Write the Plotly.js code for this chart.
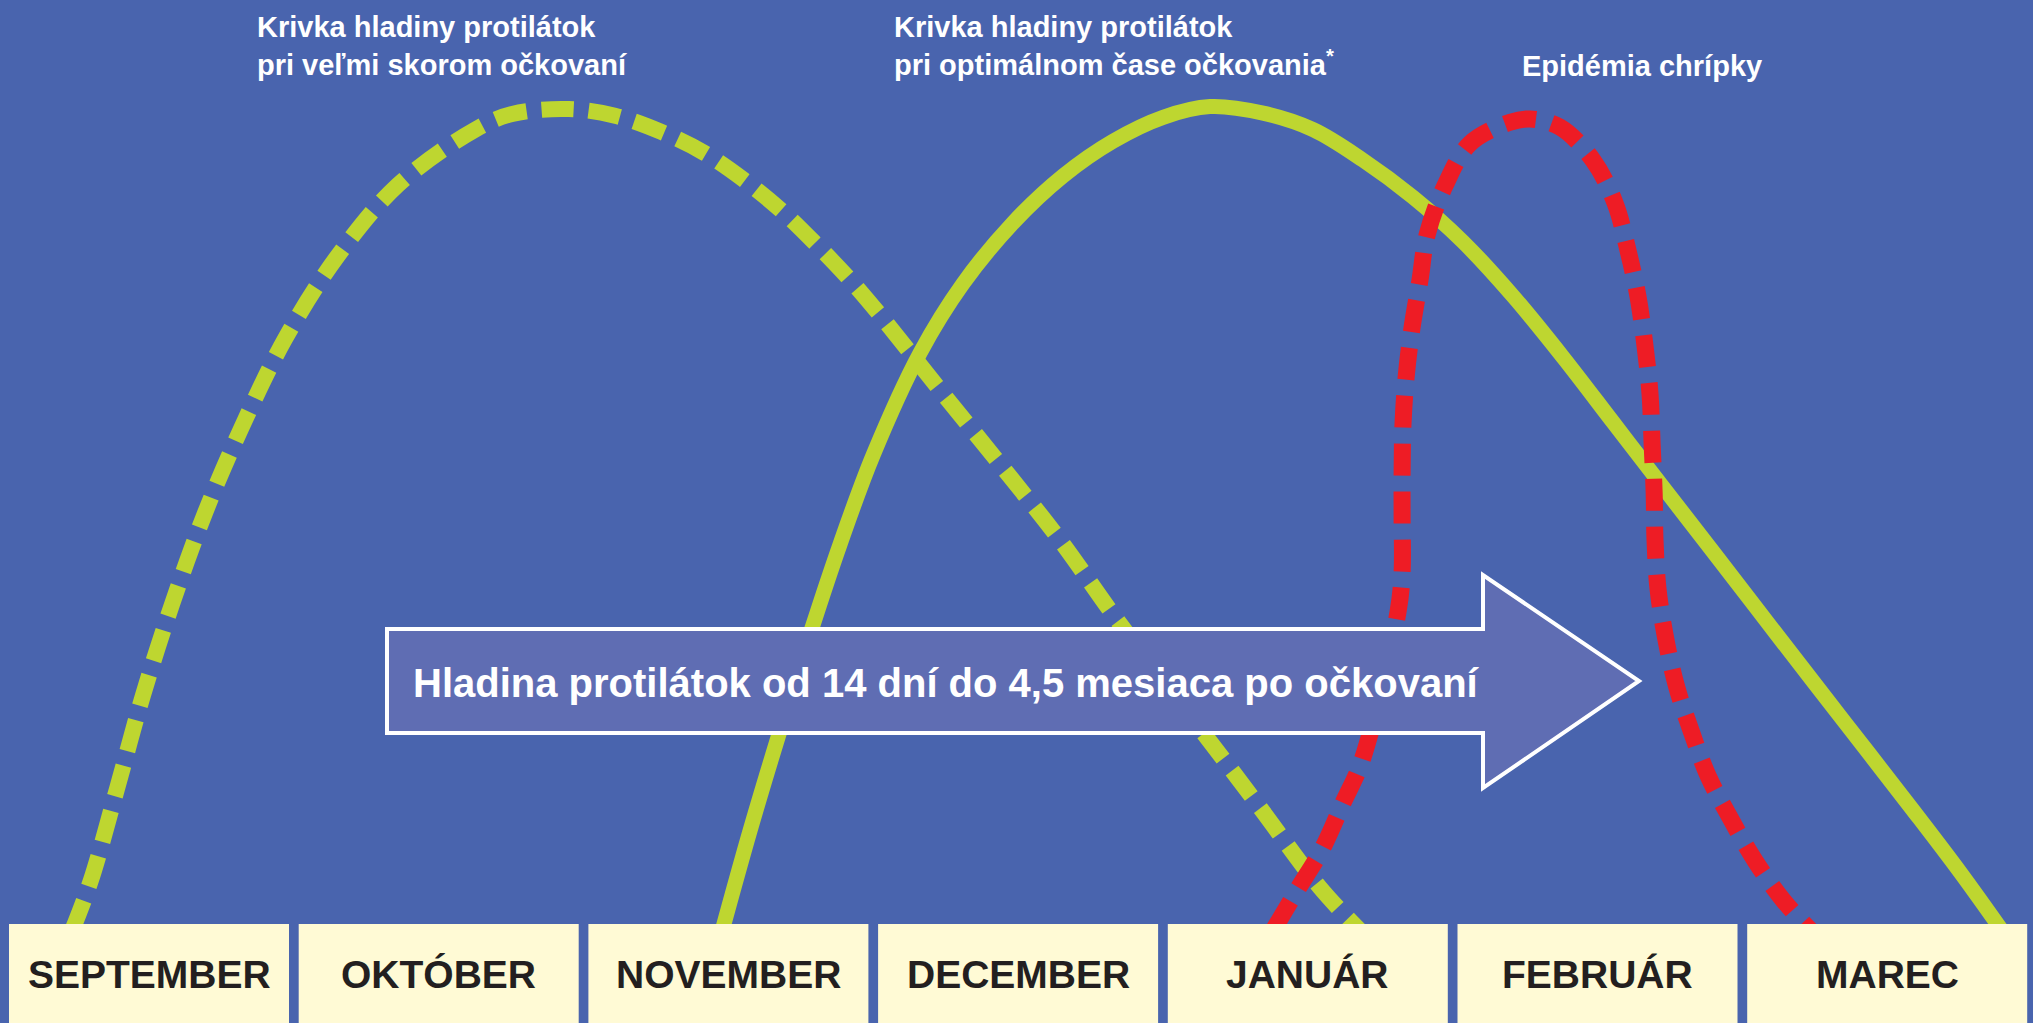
<!DOCTYPE html>
<html>
<head>
<meta charset="utf-8">
<script src="https://cdn.plot.ly/plotly-3.0.1.min.js"></script>
<style>
html,body{margin:0;padding:0;background:#4964AE;overflow:hidden}
#chart{width:2033px;height:1023px}
</style>
</head>
<body>
<div id="chart"></div>
<script>
// ---- data (x in months from start of September, y = relative antibody level / epidemic intensity) ----
const months = ['SEPTEMBER', 'OKTÓBER', 'NOVEMBER', 'DECEMBER', 'JANUÁR', 'FEBRUÁR', 'MAREC'];

// antibody curve, very early vaccination (dashed green)
const earlyX = [0.234, 0.299, 0.389, 0.479, 0.579, 0.693, 0.821, 0.969, 1.145, 1.359, 1.625, 1.753, 1.949, 2.108, 2.270, 2.415, 2.553, 2.685, 2.802, 2.916, 3.023, 3.230, 3.437, 3.644, 3.841, 4.152, 4.335, 4.542, 4.680];
const earlyY = [-0.8, 5.3, 16.4, 27.8, 38.8, 49.9, 60.4, 71.0, 80.8, 89.7, 96.4, 98.3, 98.9, 98.1, 96.1, 93.6, 90.3, 86.5, 82.5, 78.3, 73.9, 64.8, 55.8, 46.6, 36.9, 22.6, 14.1, 4.4, -0.8];

// antibody curve, optimal vaccination time (solid green)
const optimalX = [2.471, 2.574, 2.671, 2.788, 2.885, 2.999, 3.161, 3.309, 3.482, 3.655, 3.827, 4.000, 4.162, 4.345, 4.518, 4.690, 4.863, 5.035, 5.208, 5.380, 5.553, 5.726, 5.898, 6.130, 6.357, 6.589, 6.751, 6.910];
const optimalY = [-1.7, 11.3, 22.7, 35.9, 46.1, 56.9, 69.3, 77.7, 85.1, 90.8, 95.0, 97.9, 99.2, 98.4, 96.4, 92.7, 88.2, 82.8, 76.2, 68.8, 60.9, 53.0, 45.2, 34.6, 24.3, 13.8, 6.3, -1.5];

// influenza epidemic (dashed red)
const fluX = [4.383, 4.466, 4.549, 4.621, 4.687, 4.811, 4.825, 4.825, 4.825, 4.828, 4.839, 4.859, 4.887, 4.911, 4.973, 5.059, 5.198, 5.267, 5.370, 5.484, 5.560, 5.605, 5.639, 5.664, 5.681, 5.688, 5.695, 5.698, 5.708, 5.733, 5.771, 5.822, 5.881, 5.957, 6.043, 6.140, 6.233];
const fluY = [-0.6, 4.3, 9.1, 14.7, 19.9, 37.9, 42.7, 49.3, 54.7, 60.6, 66.4, 72.3, 78.2, 83.6, 89.6, 94.7, 97.3, 97.7, 96.7, 92.7, 87.5, 81.7, 76.2, 70.0, 64.2, 58.3, 52.4, 46.6, 40.8, 35.0, 29.0, 23.5, 18.0, 12.9, 7.7, 2.9, -0.7];

const labelEarly = 'Krivka hladiny protilátok<br>pri veľmi skorom očkovaní';
const labelOptimal = 'Krivka hladiny protilátok<br>pri optimálnom čase očkovania<sup>*</sup>';
const labelFlu = 'Epidémia chrípky';
const arrowText = 'Hladina protilátok od 14 dní do 4,5 mesiaca po očkovaní';

// ---- layout helpers (pixel -> axis units) ----
const W = 2033, H = 1023;
const X0PX = 4.3, MPX = 289.7;     // px of month 0, px per month
const Y0PX = 924, LPX = 8.24;      // px of level 0, px per level unit
const px2x = p => (p - X0PX) / MPX;
const py2y = p => (Y0PX - p) / LPX;

const BG = '#4964AE', GREEN = '#BED630', RED = '#EE1C25', CREAM = '#FFFAD5', ARROW = '#5F6DB3', DARK = '#231F20';
const FONT = 'Liberation Sans, Arial, Helvetica, sans-serif';

const traces = [
  {x: earlyX, y: earlyY, mode: 'lines', hoverinfo: 'skip', showlegend: false,
   line: {color: GREEN, width: 16, dash: '32px,15px', shape: 'spline', smoothing: 1}},
  {x: optimalX, y: optimalY, mode: 'lines', hoverinfo: 'skip', showlegend: false,
   line: {color: GREEN, width: 15, shape: 'spline', smoothing: 1}},
  {x: fluX, y: fluY, mode: 'lines', hoverinfo: 'skip', showlegend: false,
   line: {color: RED, width: 17, dash: '32px,16px', shape: 'spline', smoothing: 1}}
];

const shapes = [];
const annotations = [];

// month boxes
months.forEach((m, i) => {
  shapes.push({type: 'rect', xref: 'x', yref: 'y', layer: 'above',
    x0: i + px2x(9), x1: i + px2x(289),
    y0: py2y(924), y1: py2y(1040),
    fillcolor: CREAM, line: {width: 0}});
  annotations.push({xref: 'x', yref: 'y', x: i + px2x(149), y: py2y(974),
    text: '<b>' + m + '</b>', showarrow: false, xanchor: 'center', yanchor: 'middle',
    font: {family: FONT, size: 39, color: DARK}});
});

// arrow
const ax = [387, 1483, 1483, 1639, 1483, 1483, 387];
const ay = [629, 629, 575, 681, 788, 733, 733];
let path = '';
ax.forEach((v, k) => { path += (k ? ' L ' : 'M ') + px2x(v) + ',' + py2y(ay[k]); });
path += ' Z';
shapes.push({type: 'path', xref: 'x', yref: 'y', layer: 'above', path: path,
  fillcolor: ARROW, line: {color: '#FFFFFF', width: 4}});
annotations.push({xref: 'x', yref: 'y', x: px2x(946), y: py2y(683),
  text: '<b>' + arrowText + '</b>', showarrow: false, xanchor: 'center', yanchor: 'middle',
  font: {family: FONT, size: 40, color: '#FFFFFF'}});

// top labels
annotations.push({xref: 'x', yref: 'y', x: px2x(255), y: py2y(46),
  text: '<b>' + labelEarly + '</b>', showarrow: false, xanchor: 'left', yanchor: 'middle', align: 'left',
  font: {family: FONT, size: 29, color: '#FFFFFF'}});
annotations.push({xref: 'x', yref: 'y', x: px2x(892), y: py2y(46),
  text: '<b>' + labelOptimal + '</b>', showarrow: false, xanchor: 'left', yanchor: 'middle', align: 'left',
  font: {family: FONT, size: 29, color: '#FFFFFF'}});
annotations.push({xref: 'x', yref: 'y', x: px2x(1520), y: py2y(66),
  text: '<b>' + labelFlu + '</b>', showarrow: false, xanchor: 'left', yanchor: 'middle', align: 'left',
  font: {family: FONT, size: 29, color: '#FFFFFF'}});

const layout = {
  width: W, height: H,
  margin: {l: 0, r: 0, t: 0, b: 0, pad: 0},
  paper_bgcolor: BG, plot_bgcolor: BG,
  showlegend: false,
  xaxis: {range: [px2x(0), px2x(W)], visible: false, fixedrange: true},
  yaxis: {range: [py2y(H), py2y(0)], visible: false, fixedrange: true},
  shapes: shapes,
  annotations: annotations,
  hovermode: false
};

Plotly.newPlot('chart', traces, layout, {displayModeBar: false, staticPlot: true});
</script>
</body>
</html>
